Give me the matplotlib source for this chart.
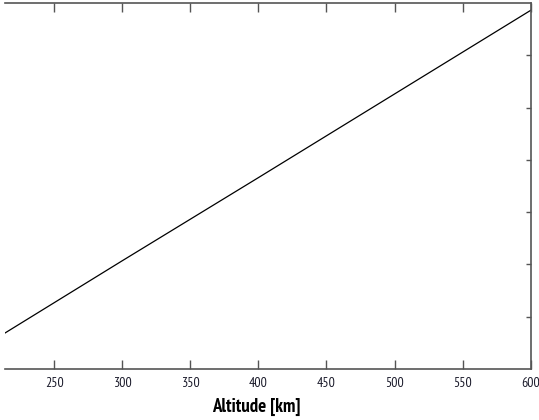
import matplotlib
matplotlib.use('Agg')
import matplotlib.pyplot as plt

# values (y axis has no visible labels)
altitude = [214, 300, 400, 500, 600]
value = [0.69, 2.07, 3.66, 5.26, 6.86]
xticks = [250, 300, 350, 400, 450, 500, 550, 600]
yticks = [1, 2, 3, 4, 5, 6]

narrow = ['PT Sans Narrow', 'Liberation Sans', 'DejaVu Sans']

fig = plt.figure(figsize=(5.39, 4.2), dpi=100)
ax = fig.add_axes([5/539, 51/420, 525.7/539, 366/420])

ax.plot(altitude, value, color='black', lw=0.9)

ax.set_xlim(213.9, 600)
ax.set_ylim(0, 7)
ax.set_xticks(xticks)
ax.set_yticks(yticks)
ax.set_yticklabels([])

ax.spines['left'].set_visible(False)
for s in ['top', 'bottom', 'right']:
    ax.spines[s].set_color('#555555')
    ax.spines[s].set_linewidth(1.2)

ax.tick_params(axis='x', direction='in', length=6.5, width=1, color='#555555',
               top=True, bottom=True, pad=6, labelsize=10)
ax.tick_params(axis='y', direction='in', length=3.6, width=1, color='#555555',
               left=False, right=True, labelleft=False)
for lab in ax.get_xticklabels():
    lab.set_fontfamily(narrow)
    lab.set_color('#1a1a2a')

ax.set_xlabel('Altitude [km]', fontsize=13.5, fontweight='bold', family=narrow)
ax.xaxis.set_label_coords((256 - 5) / 525.7, -0.08)

fig.savefig('out.png', dpi=100)
